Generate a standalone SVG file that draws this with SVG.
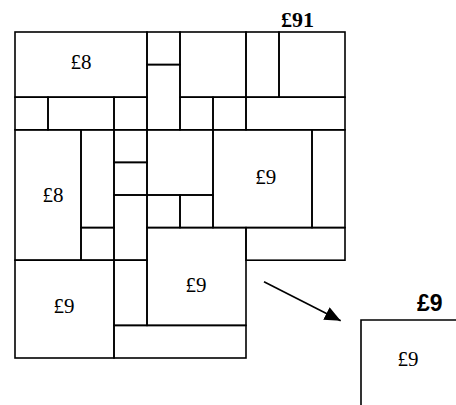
<svg xmlns="http://www.w3.org/2000/svg" width="456" height="405" viewBox="0 0 456 405">
<style>
.t{fill:none;stroke:#000;stroke-width:1.6}
.l{font-family:"Liberation Serif","Times New Roman",serif;font-size:21px;fill:#000;text-anchor:middle}
.c{stroke:#000;stroke-width:1.6;fill:none}
</style>
<defs>
<marker id="ah" markerUnits="userSpaceOnUse" markerWidth="17" markerHeight="15" refX="16" refY="7" orient="auto">
<path d="M0,0 L16,7 L0,14 z" fill="#000"/>
</marker>
</defs>
<rect width="456" height="405" fill="#fff"/>
<text x="281" y="27" font-family="Liberation Serif,serif" font-weight="bold" font-size="22">£91</text>
<g id="tiles">
<g id="t1"><rect class="t" x="15" y="32" width="132" height="65.2"/><text class="l" x="81" y="69">£8</text></g>
<g id="t2"><rect class="t" x="147" y="32" width="33" height="32.6"/></g>
<g id="t3"><rect class="t" x="147" y="64.6" width="33" height="65.2"/></g>
<g id="t4"><rect class="t" x="180" y="32" width="66" height="65.2"/></g>
<g id="t5"><rect class="t" x="246" y="32" width="33" height="65.2"/></g>
<g id="t6"><rect class="t" x="279" y="32" width="66" height="65.2"/></g>
<g id="t7"><rect class="t" x="15" y="97.2" width="33" height="32.6"/></g>
<g id="t8"><rect class="t" x="48" y="97.2" width="66" height="32.6"/></g>
<g id="t9"><rect class="t" x="114" y="97.2" width="33" height="32.6"/></g>
<g id="t10"><rect class="t" x="180" y="97.2" width="33" height="32.6"/></g>
<g id="t11"><rect class="t" x="213" y="97.2" width="33" height="32.6"/></g>
<g id="t12"><rect class="t" x="246" y="97.2" width="99" height="32.6"/></g>
<g id="t13"><rect class="t" x="15" y="129.8" width="66" height="130.4"/><text class="l" x="53" y="202">£8</text></g>
<g id="t14"><rect class="t" x="81" y="129.8" width="33" height="97.8"/></g>
<g id="t15"><rect class="t" x="81" y="227.6" width="33" height="32.6"/></g>
<g id="t16"><rect class="t" x="114" y="129.8" width="33" height="32.6"/></g>
<g id="t17"><rect class="t" x="114" y="162.4" width="33" height="32.6"/></g>
<g id="t18"><rect class="t" x="114" y="195" width="33" height="65.2"/></g>
<g id="t19"><rect class="t" x="147" y="129.8" width="66" height="65.2"/></g>
<g id="t20"><rect class="t" x="147" y="195" width="33" height="32.6"/></g>
<g id="t21"><rect class="t" x="180" y="195" width="33" height="32.6"/></g>
<g id="t22"><rect class="t" x="213" y="129.8" width="99" height="97.8"/><text class="l" x="265.7" y="184">£9</text></g>
<g id="t23"><rect class="t" x="312" y="129.8" width="33" height="97.8"/></g>
<g id="t24"><rect class="t" x="246" y="227.6" width="99" height="32.6"/></g>
<g id="t25"><rect class="t" x="147" y="227.6" width="99" height="97.8"/><text class="l" x="196" y="292">£9</text></g>
<g id="t26"><rect class="t" x="15" y="260.2" width="99" height="97.8"/><text class="l" x="64" y="313">£9</text></g>
<g id="t27"><rect class="t" x="114" y="260.2" width="33" height="65.2"/></g>
<g id="t28"><rect class="t" x="114" y="325.4" width="132" height="32.6"/></g>
</g>
<g id="piece">
<polyline class="t" points="456,320 361,320 361,405"/>
<text x="417" y="311" font-family="Liberation Sans,Arial,sans-serif" font-weight="bold" font-size="23">£9</text>
<text class="l" x="408" y="366">£9</text>
</g>
<g id="connectors">
<line class="c" x1="264" y1="281.7" x2="340.7" y2="320.7" marker-end="url(#ah)"/>
</g>
</svg>
